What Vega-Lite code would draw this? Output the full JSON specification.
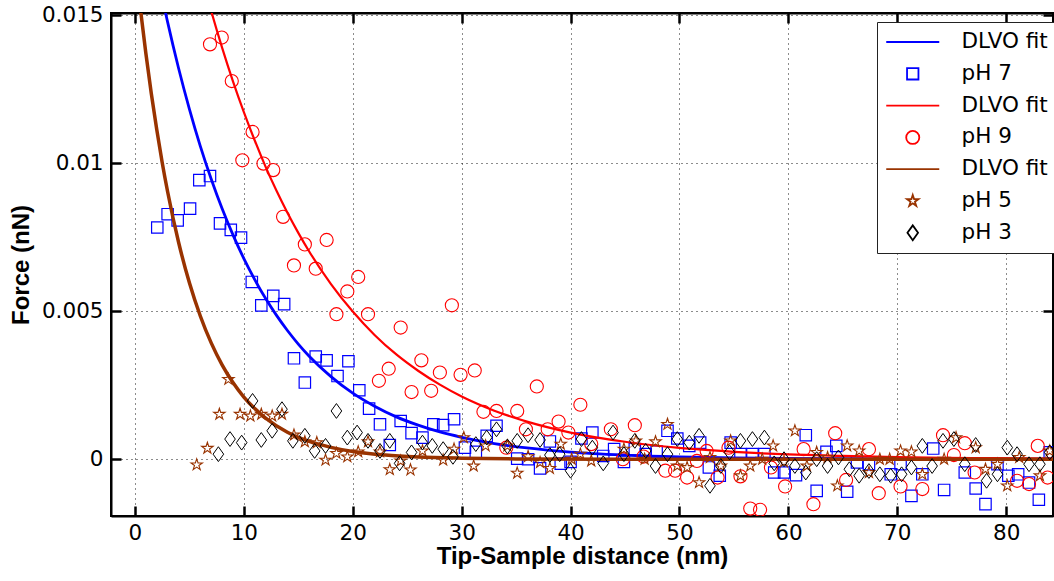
{
"$schema":"https://vega.github.io/schema/vega-lite/v6.json",
"width":942,"height":503,
"autosize":{"type":"none"},
"padding":{"left":111,"top":13,"right":1,"bottom":65},
"background":"white",
"config":{"view":{"stroke":"black","strokeWidth":2},"font":"DejaVu Sans"},
"datasets":{
"fits":[
{"s":"fit7","x":2,"y":0.0165},{"s":"fit7","x":3,"y":0.01477},{"s":"fit7","x":4,"y":0.01322},{"s":"fit7","x":5,"y":0.01183},{"s":"fit7","x":6,"y":0.01058},{"s":"fit7","x":7,"y":0.00947},{"s":"fit7","x":8,"y":0.00847},{"s":"fit7","x":9,"y":0.00758},{"s":"fit7","x":10,"y":0.00678},{"s":"fit7","x":11,"y":0.00607},{"s":"fit7","x":12,"y":0.00543},{"s":"fit7","x":13,"y":0.00486},{"s":"fit7","x":14,"y":0.00435},{"s":"fit7","x":15,"y":0.00389},{"s":"fit7","x":16,"y":0.00348},{"s":"fit7","x":18,"y":0.00279},{"s":"fit7","x":20,"y":0.00223},{"s":"fit7","x":22,"y":0.00179},{"s":"fit7","x":24,"y":0.00143},{"s":"fit7","x":26,"y":0.00115},{"s":"fit7","x":28,"y":0.00092},{"s":"fit7","x":30,"y":0.00074},{"s":"fit7","x":33,"y":0.00053},{"s":"fit7","x":36,"y":0.00038},{"s":"fit7","x":40,"y":0.00024},{"s":"fit7","x":45,"y":0.00014},{"s":"fit7","x":50,"y":0.00008},{"s":"fit7","x":55,"y":0.000046},{"s":"fit7","x":60,"y":0.000026},{"s":"fit7","x":70,"y":0.00001},{"s":"fit7","x":84.3,"y":0.000002},
{"s":"fit9","x":6,"y":0.0165},{"s":"fit9","x":7,"y":0.01515},{"s":"fit9","x":8,"y":0.01391},{"s":"fit9","x":9,"y":0.01277},{"s":"fit9","x":10,"y":0.01173},{"s":"fit9","x":11,"y":0.01077},{"s":"fit9","x":12,"y":0.00988},{"s":"fit9","x":13,"y":0.00907},{"s":"fit9","x":14,"y":0.00833},{"s":"fit9","x":15,"y":0.00765},{"s":"fit9","x":16,"y":0.00702},{"s":"fit9","x":18,"y":0.00592},{"s":"fit9","x":20,"y":0.00499},{"s":"fit9","x":22,"y":0.0042},{"s":"fit9","x":24,"y":0.00354},{"s":"fit9","x":26,"y":0.00299},{"s":"fit9","x":28,"y":0.00252},{"s":"fit9","x":30,"y":0.00212},{"s":"fit9","x":33,"y":0.00164},{"s":"fit9","x":36,"y":0.00127},{"s":"fit9","x":40,"y":0.0009},{"s":"fit9","x":45,"y":0.00059},{"s":"fit9","x":50,"y":0.00038},{"s":"fit9","x":55,"y":0.00025},{"s":"fit9","x":60,"y":0.00016},{"s":"fit9","x":65,"y":0.00011},{"s":"fit9","x":70,"y":0.00007},{"s":"fit9","x":77,"y":0.00004},{"s":"fit9","x":84.3,"y":0.00002},
{"s":"fit5","x":0,"y":0.0169},{"s":"fit5","x":0.5,"y":0.01522},{"s":"fit5","x":1,"y":0.01372},{"s":"fit5","x":1.5,"y":0.01236},{"s":"fit5","x":2,"y":0.01114},{"s":"fit5","x":2.5,"y":0.01003},{"s":"fit5","x":3,"y":0.00904},{"s":"fit5","x":4,"y":0.00734},{"s":"fit5","x":5,"y":0.00596},{"s":"fit5","x":6,"y":0.00484},{"s":"fit5","x":7,"y":0.00393},{"s":"fit5","x":8,"y":0.00319},{"s":"fit5","x":9,"y":0.00259},{"s":"fit5","x":10,"y":0.0021},{"s":"fit5","x":11,"y":0.00171},{"s":"fit5","x":12,"y":0.00139},{"s":"fit5","x":14,"y":0.00091},{"s":"fit5","x":16,"y":0.0006},{"s":"fit5","x":18,"y":0.0004},{"s":"fit5","x":20,"y":0.00026},{"s":"fit5","x":23,"y":0.00014},{"s":"fit5","x":26,"y":0.000075},{"s":"fit5","x":30,"y":0.000033},{"s":"fit5","x":35,"y":0.00001},{"s":"fit5","x":45,"y":0.000001},{"s":"fit5","x":84.3,"y":0}
],
"pts":[
{"s":"pH 7","x":2.05,"y":0.00783},{"s":"pH 7","x":3.0,"y":0.00828},{"s":"pH 7","x":3.92,"y":0.00807},{"s":"pH 7","x":5.06,"y":0.00847},{"s":"pH 7","x":5.91,"y":0.00943},{"s":"pH 7","x":6.89,"y":0.00957},{"s":"pH 7","x":7.81,"y":0.00797},{"s":"pH 7","x":8.8,"y":0.00775},{"s":"pH 7","x":9.74,"y":0.00749},{"s":"pH 7","x":10.73,"y":0.00599},{"s":"pH 7","x":11.6,"y":0.0052},{"s":"pH 7","x":12.7,"y":0.00552},{"s":"pH 7","x":13.7,"y":0.00524},{"s":"pH 7","x":14.6,"y":0.00341},{"s":"pH 7","x":15.6,"y":0.00259},{"s":"pH 7","x":16.6,"y":0.00347},{"s":"pH 7","x":17.6,"y":0.00334},{"s":"pH 7","x":18.6,"y":0.00281},{"s":"pH 7","x":19.6,"y":0.00331},{"s":"pH 7","x":20.6,"y":0.00233},{"s":"pH 7","x":21.5,"y":0.00171},{"s":"pH 7","x":22.5,"y":0.00118},{"s":"pH 7","x":23.4,"y":0.00048},{"s":"pH 7","x":24.4,"y":0.00129},{"s":"pH 7","x":25.4,"y":0.00088},{"s":"pH 7","x":26.4,"y":0.00073},{"s":"pH 7","x":27.4,"y":0.00118},{"s":"pH 7","x":28.3,"y":0.00115},{"s":"pH 7","x":29.3,"y":0.00135},{"s":"pH 7","x":30.3,"y":0.00039},{"s":"pH 7","x":31.3,"y":0.00025},{"s":"pH 7","x":32.3,"y":0.00079},{"s":"pH 7","x":33.2,"y":0.00113},{"s":"pH 7","x":35.1,"y":0.00002},{"s":"pH 7","x":36.1,"y":0.0},{"s":"pH 7","x":37.2,"y":-0.00031},{"s":"pH 7","x":38.1,"y":0.0006},{"s":"pH 7","x":39.1,"y":-0.00015},{"s":"pH 7","x":40.0,"y":-0.00009},{"s":"pH 7","x":41.0,"y":0.0007},{"s":"pH 7","x":42.0,"y":0.0009},{"s":"pH 7","x":43.0,"y":0.00011},{"s":"pH 7","x":44.0,"y":0.00034},{"s":"pH 7","x":44.9,"y":-0.00009},{"s":"pH 7","x":45.9,"y":0.00034},{"s":"pH 7","x":46.9,"y":0.00017},{"s":"pH 7","x":47.9,"y":0.00026},{"s":"pH 7","x":48.9,"y":0.00096},{"s":"pH 7","x":49.8,"y":0.0007},{"s":"pH 7","x":50.9,"y":0.00045},{"s":"pH 7","x":51.9,"y":0.00056},{"s":"pH 7","x":52.7,"y":-0.00028},{"s":"pH 7","x":53.7,"y":-0.00056},{"s":"pH 7","x":54.7,"y":0.00056},{"s":"pH 7","x":55.6,"y":0.00017},{"s":"pH 7","x":56.7,"y":0.00017},{"s":"pH 7","x":57.8,"y":0.00017},{"s":"pH 7","x":58.7,"y":-0.00045},{"s":"pH 7","x":59.6,"y":-0.00045},{"s":"pH 7","x":60.7,"y":-0.00054},{"s":"pH 7","x":61.6,"y":0.00081},{"s":"pH 7","x":62.6,"y":-0.00107},{"s":"pH 7","x":63.5,"y":0.00025},{"s":"pH 7","x":64.4,"y":0.00045},{"s":"pH 7","x":65.4,"y":-0.0011},{"s":"pH 7","x":66.3,"y":-0.00011},{"s":"pH 7","x":67.4,"y":-0.00017},{"s":"pH 7","x":69.4,"y":-0.00051},{"s":"pH 7","x":70.3,"y":-0.00017},{"s":"pH 7","x":71.3,"y":-0.00124},{"s":"pH 7","x":72.3,"y":-0.00051},{"s":"pH 7","x":73.3,"y":0.00036},{"s":"pH 7","x":74.3,"y":-0.00104},{"s":"pH 7","x":76.2,"y":-0.00045},{"s":"pH 7","x":77.2,"y":-0.00099},{"s":"pH 7","x":78.1,"y":-0.00152},{"s":"pH 7","x":79.2,"y":-0.00017},{"s":"pH 7","x":80.2,"y":-0.00056},{"s":"pH 7","x":81.1,"y":-0.00051},{"s":"pH 7","x":82.1,"y":-0.00079},{"s":"pH 7","x":83.0,"y":-0.00137},{"s":"pH 7","x":84.0,"y":0.00023},
{"s":"pH 9","x":6.89,"y":0.01402},{"s":"pH 9","x":7.97,"y":0.01425},{"s":"pH 9","x":8.89,"y":0.01278},{"s":"pH 9","x":9.86,"y":0.0101},{"s":"pH 9","x":10.8,"y":0.01106},{"s":"pH 9","x":11.8,"y":0.00999},{"s":"pH 9","x":12.7,"y":0.00977},{"s":"pH 9","x":13.6,"y":0.00819},{"s":"pH 9","x":14.6,"y":0.00655},{"s":"pH 9","x":15.6,"y":0.00726},{"s":"pH 9","x":16.6,"y":0.00644},{"s":"pH 9","x":17.6,"y":0.00741},{"s":"pH 9","x":18.5,"y":0.0049},{"s":"pH 9","x":19.5,"y":0.00567},{"s":"pH 9","x":20.5,"y":0.00616},{"s":"pH 9","x":21.4,"y":0.0049},{"s":"pH 9","x":22.4,"y":0.00265},{"s":"pH 9","x":23.3,"y":0.00306},{"s":"pH 9","x":24.4,"y":0.00445},{"s":"pH 9","x":25.4,"y":0.00227},{"s":"pH 9","x":26.3,"y":0.00334},{"s":"pH 9","x":27.2,"y":0.00231},{"s":"pH 9","x":28.0,"y":0.00293},{"s":"pH 9","x":29.1,"y":0.0052},{"s":"pH 9","x":29.9,"y":0.00285},{"s":"pH 9","x":31.2,"y":0.003},{"s":"pH 9","x":32.0,"y":0.0016},{"s":"pH 9","x":33.2,"y":0.00163},{"s":"pH 9","x":34.1,"y":0.00039},{"s":"pH 9","x":35.1,"y":0.00163},{"s":"pH 9","x":35.9,"y":0.00101},{"s":"pH 9","x":36.9,"y":0.00246},{"s":"pH 9","x":37.9,"y":0.00101},{"s":"pH 9","x":38.9,"y":0.00127},{"s":"pH 9","x":39.8,"y":0.0009},{"s":"pH 9","x":40.9,"y":0.00184},{"s":"pH 9","x":41.9,"y":0.00051},{"s":"pH 9","x":43.7,"y":0.00101},{"s":"pH 9","x":44.8,"y":0.0},{"s":"pH 9","x":45.9,"y":0.00115},{"s":"pH 9","x":46.7,"y":0.00009},{"s":"pH 9","x":48.7,"y":-0.00039},{"s":"pH 9","x":49.6,"y":-0.00039},{"s":"pH 9","x":50.7,"y":-0.00062},{"s":"pH 9","x":51.6,"y":-0.00006},{"s":"pH 9","x":52.5,"y":0.00028},{"s":"pH 9","x":53.5,"y":-0.00062},{"s":"pH 9","x":54.5,"y":0.00039},{"s":"pH 9","x":55.6,"y":-0.00058},{"s":"pH 9","x":56.5,"y":-0.00167},{"s":"pH 9","x":57.4,"y":-0.00171},{"s":"pH 9","x":58.4,"y":-0.00028},{"s":"pH 9","x":59.7,"y":-0.00092},{"s":"pH 9","x":61.4,"y":0.00034},{"s":"pH 9","x":62.3,"y":-0.00152},{"s":"pH 9","x":64.3,"y":0.00088},{"s":"pH 9","x":65.3,"y":-0.0007},{"s":"pH 9","x":67.4,"y":0.00034},{"s":"pH 9","x":68.3,"y":-0.00115},{"s":"pH 9","x":70.3,"y":-0.00092},{"s":"pH 9","x":72.3,"y":-0.00101},{"s":"pH 9","x":74.2,"y":0.00081},{"s":"pH 9","x":75.2,"y":0.00014},{"s":"pH 9","x":76.2,"y":0.00054},{"s":"pH 9","x":77.1,"y":-0.00045},{"s":"pH 9","x":81.0,"y":-0.00073},{"s":"pH 9","x":82.1,"y":-0.00084},{"s":"pH 9","x":82.9,"y":0.00045},{"s":"pH 9","x":83.8,"y":-0.00062},
{"s":"pH 5","x":5.67,"y":-0.00019},{"s":"pH 5","x":6.65,"y":0.00037},{"s":"pH 5","x":7.75,"y":0.00152},{"s":"pH 5","x":8.58,"y":0.0027},{"s":"pH 5","x":9.65,"y":0.00152},{"s":"pH 5","x":10.6,"y":0.00146},{"s":"pH 5","x":11.6,"y":0.00152},{"s":"pH 5","x":12.6,"y":0.00146},{"s":"pH 5","x":13.5,"y":0.00152},{"s":"pH 5","x":14.6,"y":0.00082},{"s":"pH 5","x":15.6,"y":0.00059},{"s":"pH 5","x":16.7,"y":0.00056},{"s":"pH 5","x":17.5,"y":-0.00003},{"s":"pH 5","x":18.5,"y":0.0002},{"s":"pH 5","x":19.5,"y":0.00008},{"s":"pH 5","x":20.5,"y":0.00025},{"s":"pH 5","x":21.4,"y":0.00059},{"s":"pH 5","x":22.5,"y":0.00025},{"s":"pH 5","x":23.4,"y":-0.00035},{"s":"pH 5","x":24.4,"y":-0.00006},{"s":"pH 5","x":25.3,"y":-0.00036},{"s":"pH 5","x":26.4,"y":0.00028},{"s":"pH 5","x":28.3,"y":-0.00003},{"s":"pH 5","x":29.3,"y":0.00034},{"s":"pH 5","x":30.2,"y":0.00073},{"s":"pH 5","x":31.1,"y":-0.00023},{"s":"pH 5","x":32.2,"y":0.00045},{"s":"pH 5","x":34.2,"y":0.00045},{"s":"pH 5","x":35.1,"y":-0.00047},{"s":"pH 5","x":36.1,"y":0.00009},{"s":"pH 5","x":37.2,"y":-0.00011},{"s":"pH 5","x":38.1,"y":-0.00031},{"s":"pH 5","x":39.1,"y":0.00051},{"s":"pH 5","x":40.1,"y":0.0},{"s":"pH 5","x":40.9,"y":0.00017},{"s":"pH 5","x":41.9,"y":-0.00006},{"s":"pH 5","x":44.9,"y":0.00034},{"s":"pH 5","x":46.0,"y":0.00062},{"s":"pH 5","x":46.8,"y":0.0},{"s":"pH 5","x":47.8,"y":0.00059},{"s":"pH 5","x":48.9,"y":0.00118},{"s":"pH 5","x":49.8,"y":-0.00023},{"s":"pH 5","x":50.7,"y":-0.00028},{"s":"pH 5","x":51.8,"y":-0.00079},{"s":"pH 5","x":52.8,"y":0.00006},{"s":"pH 5","x":53.8,"y":-0.00023},{"s":"pH 5","x":54.7,"y":0.00062},{"s":"pH 5","x":55.6,"y":-0.00056},{"s":"pH 5","x":56.5,"y":-0.00023},{"s":"pH 5","x":57.6,"y":0.0},{"s":"pH 5","x":58.6,"y":0.00045},{"s":"pH 5","x":59.6,"y":-0.00009},{"s":"pH 5","x":60.6,"y":0.00096},{"s":"pH 5","x":61.7,"y":-0.00023},{"s":"pH 5","x":62.6,"y":0.00023},{"s":"pH 5","x":63.6,"y":0.00006},{"s":"pH 5","x":64.5,"y":-0.0009},{"s":"pH 5","x":65.4,"y":0.00045},{"s":"pH 5","x":66.5,"y":0.00028},{"s":"pH 5","x":67.4,"y":-0.00045},{"s":"pH 5","x":68.4,"y":0.0},{"s":"pH 5","x":69.3,"y":0.0},{"s":"pH 5","x":70.3,"y":0.00028},{"s":"pH 5","x":71.3,"y":0.00025},{"s":"pH 5","x":72.3,"y":-0.00051},{"s":"pH 5","x":74.3,"y":0.0},{"s":"pH 5","x":75.4,"y":0.00073},{"s":"pH 5","x":77.2,"y":0.00039},{"s":"pH 5","x":78.1,"y":-0.00034},{"s":"pH 5","x":79.2,"y":-0.00017},{"s":"pH 5","x":80.1,"y":-0.0009},{"s":"pH 5","x":81.2,"y":0.00006},{"s":"pH 5","x":83.1,"y":-0.00056},{"s":"pH 5","x":84.0,"y":0.00028},
{"s":"pH 3","x":7.66,"y":0.00017},{"s":"pH 3","x":8.73,"y":0.00068},{"s":"pH 3","x":9.8,"y":0.00056},{"s":"pH 3","x":10.8,"y":0.00197},{"s":"pH 3","x":11.6,"y":0.00065},{"s":"pH 3","x":12.6,"y":0.00096},{"s":"pH 3","x":13.5,"y":0.00169},{"s":"pH 3","x":14.5,"y":0.00062},{"s":"pH 3","x":15.6,"y":0.00079},{"s":"pH 3","x":16.5,"y":0.00028},{"s":"pH 3","x":17.5,"y":0.00045},{"s":"pH 3","x":18.5,"y":0.00163},{"s":"pH 3","x":19.5,"y":0.00073},{"s":"pH 3","x":20.4,"y":0.0009},{"s":"pH 3","x":21.4,"y":0.00062},{"s":"pH 3","x":22.5,"y":0.00028},{"s":"pH 3","x":23.4,"y":0.00062},{"s":"pH 3","x":24.3,"y":-0.00014},{"s":"pH 3","x":25.4,"y":0.00023},{"s":"pH 3","x":26.4,"y":0.00056},{"s":"pH 3","x":27.3,"y":0.00045},{"s":"pH 3","x":28.3,"y":0.00034},{"s":"pH 3","x":29.2,"y":0.00008},{"s":"pH 3","x":31.3,"y":0.00051},{"s":"pH 3","x":32.3,"y":0.00073},{"s":"pH 3","x":33.2,"y":0.00101},{"s":"pH 3","x":34.2,"y":0.00043},{"s":"pH 3","x":35.1,"y":0.00062},{"s":"pH 3","x":36.1,"y":0.00081},{"s":"pH 3","x":37.2,"y":0.00065},{"s":"pH 3","x":38.1,"y":0.00014},{"s":"pH 3","x":39.0,"y":0.00017},{"s":"pH 3","x":40.0,"y":-0.00039},{"s":"pH 3","x":41.0,"y":0.00068},{"s":"pH 3","x":42.0,"y":0.00039},{"s":"pH 3","x":43.0,"y":-0.00014},{"s":"pH 3","x":43.9,"y":0.0009},{"s":"pH 3","x":44.9,"y":0.00017},{"s":"pH 3","x":45.9,"y":0.00062},{"s":"pH 3","x":46.9,"y":0.00028},{"s":"pH 3","x":47.8,"y":-0.00023},{"s":"pH 3","x":48.9,"y":0.00017},{"s":"pH 3","x":49.8,"y":0.00068},{"s":"pH 3","x":50.9,"y":0.00056},{"s":"pH 3","x":51.8,"y":0.00079},{"s":"pH 3","x":52.8,"y":-0.0009},{"s":"pH 3","x":53.8,"y":-0.00023},{"s":"pH 3","x":54.6,"y":0.00023},{"s":"pH 3","x":55.6,"y":0.00062},{"s":"pH 3","x":56.7,"y":0.00068},{"s":"pH 3","x":57.8,"y":0.00073},{"s":"pH 3","x":58.7,"y":-0.00014},{"s":"pH 3","x":59.6,"y":0.0},{"s":"pH 3","x":60.6,"y":-0.00023},{"s":"pH 3","x":61.6,"y":-0.00045},{"s":"pH 3","x":62.6,"y":0.0},{"s":"pH 3","x":63.6,"y":-0.00023},{"s":"pH 3","x":64.6,"y":0.00006},{"s":"pH 3","x":65.6,"y":-0.00034},{"s":"pH 3","x":66.5,"y":-0.00056},{"s":"pH 3","x":67.4,"y":-0.0004},{"s":"pH 3","x":68.4,"y":-0.00051},{"s":"pH 3","x":69.4,"y":-0.00056},{"s":"pH 3","x":70.4,"y":-0.00051},{"s":"pH 3","x":71.3,"y":-0.00028},{"s":"pH 3","x":72.3,"y":0.00045},{"s":"pH 3","x":73.2,"y":-0.00023},{"s":"pH 3","x":74.2,"y":0.00062},{"s":"pH 3","x":75.2,"y":0.00068},{"s":"pH 3","x":76.2,"y":-0.00017},{"s":"pH 3","x":77.2,"y":0.00048},{"s":"pH 3","x":78.2,"y":-0.00073},{"s":"pH 3","x":79.2,"y":-0.00051},{"s":"pH 3","x":80.1,"y":0.00039},{"s":"pH 3","x":81.0,"y":0.00017},{"s":"pH 3","x":82.1,"y":-0.00017},{"s":"pH 3","x":83.1,"y":-0.00017},{"s":"pH 3","x":84.0,"y":0.00023}
]
},
"layer":[
{"data":{"name":"fits"},"transform":[{"filter":"datum.s === 'fit7'"}],
 "mark":{"type":"line","clip":true,"strokeWidth":2.8,"interpolate":"monotone"},
 "encoding":{
  "x":{"field":"x","type":"quantitative","scale":{"domain":[-2.2,84.3],"nice":false,"zero":false},
   "axis":{"orient":"bottom","values":[0,10,20,30,40,50,60,70,80],"title":"Tip-Sample distance (nm)","grid":true,"gridColor":"black","gridDash":[1,4],"gridWidth":1,"gridOpacity":0.9,"domainColor":"black","domainWidth":2,"tickColor":"black","tickWidth":2.5,"tickSize":-10,"labelPadding":16,"labelFont":"DejaVu Sans","labelFontSize":21.5,"labelColor":"black","labelFlush":false,"labelOverlap":false,"titleFont":"Liberation Sans","titleFontSize":24,"titleFontWeight":"bold","titleColor":"black","titlePadding":1}},
  "y":{"field":"y","type":"quantitative","scale":{"domain":[-0.00192,0.01508],"nice":false,"zero":false},
   "axis":{"orient":"left","values":[0,0.005,0.01,0.015],"format":"~g","title":"Force (nN)","grid":true,"gridColor":"black","gridDash":[1,4],"gridWidth":1,"gridOpacity":0.9,"domainColor":"black","domainWidth":2,"tickColor":"black","tickWidth":2.5,"tickSize":-10,"labelPadding":18,"labelFont":"DejaVu Sans","labelFontSize":21.5,"labelColor":"black","labelFlush":false,"labelOverlap":false,"titleFont":"Liberation Sans","titleFontSize":24,"titleFontWeight":"bold","titleColor":"black","titlePadding":8}},
  "color":{"field":"s","type":"nominal","scale":{"domain":["fit7","pH 7","fit9","pH 9","fit5","pH 5","pH 3"],"range":["#0000FF","#0000FF","#FF0000","#FF0000","#993300","#993300","#000000"]},
   "legend":{"title":null,"orient":"none","legendX":766,"legendY":9,"direction":"vertical","padding":9,"fillColor":"white","strokeColor":"#222222","labelFont":"DejaVu Sans","labelFontSize":21.5,"labelColor":"black","labelExpr":"indexof(datum.label,'fit')==0 ? 'DLVO fit' : datum.label","symbolSize":130,"symbolStrokeWidth":1.8,"symbolOffset":16,"labelOffset":38,"clipHeight":22,"rowPadding":9.8}}
 }},
{"data":{"name":"pts"},"transform":[{"filter":"datum.s === 'pH 7'"}],
 "mark":{"type":"point","clip":true,"filled":false,"size":130,"strokeWidth":1.2,"opacity":1},
 "encoding":{
  "x":{"field":"x","type":"quantitative","axis":{"orient":"top","labels":false,"grid":false,"title":null,"values":[0,10,20,30,40,50,60,70,80],"domainColor":"black","domainWidth":2,"tickColor":"black","tickWidth":2.5,"tickSize":-10}},
  "y":{"field":"y","type":"quantitative","axis":{"orient":"right","labels":false,"grid":false,"title":null,"values":[0,0.005,0.01,0.015],"domainColor":"black","domainWidth":2,"tickColor":"black","tickWidth":2.5,"tickSize":-10}},
  "color":{"field":"s","type":"nominal","legend":{"title":null,"orient":"none","legendX":766,"legendY":9,"direction":"vertical","padding":9,"fillColor":"white","strokeColor":"#222222","labelFont":"DejaVu Sans","labelFontSize":21.5,"labelColor":"black","labelExpr":"indexof(datum.label,'fit')==0 ? 'DLVO fit' : datum.label","symbolSize":130,"symbolStrokeWidth":1.8,"symbolOffset":16,"labelOffset":38,"clipHeight":22,"rowPadding":9.8}},
  "shape":{"field":"s","type":"nominal","scale":{"domain":["fit7","pH 7","fit9","pH 9","fit5","pH 5","pH 3"],"range":["M-4.65,0H4.65","square","M-4.65,0H4.65","M1.15,0A1.15,1.15,0,1,1,-1.15,0A1.15,1.15,0,1,1,1.15,0Z","M-4.65,0H4.65","M0,-1.05L0.236,-0.324L1.0,-0.324L0.381,0.124L0.617,0.85L0,0.401L-0.617,0.85L-0.381,0.124L-1.0,-0.324L-0.236,-0.324Z","M-0.93,0L0,-1.3L0.93,0L0,1.3Z"]},"legend":{"title":null,"orient":"none","legendX":766,"legendY":9,"direction":"vertical","padding":9,"fillColor":"white","strokeColor":"#222222","labelFont":"DejaVu Sans","labelFontSize":21.5,"labelColor":"black","labelExpr":"indexof(datum.label,'fit')==0 ? 'DLVO fit' : datum.label","symbolSize":130,"symbolStrokeWidth":1.8,"symbolOffset":16,"labelOffset":38,"clipHeight":22,"rowPadding":9.8}}
 }},
{"data":{"name":"fits"},"transform":[{"filter":"datum.s === 'fit9'"}],
 "mark":{"type":"line","clip":true,"strokeWidth":2.2,"interpolate":"monotone"},
 "encoding":{"x":{"field":"x","type":"quantitative","axis":null},"y":{"field":"y","type":"quantitative","axis":null},"color":{"field":"s","type":"nominal"}}},
{"data":{"name":"pts"},"transform":[{"filter":"datum.s === 'pH 9'"}],
 "mark":{"type":"point","clip":true,"filled":false,"size":130,"strokeWidth":1.1,"opacity":1},
 "encoding":{"x":{"field":"x","type":"quantitative","axis":null},"y":{"field":"y","type":"quantitative","axis":null},"color":{"field":"s","type":"nominal"},"shape":{"field":"s","type":"nominal"}}},
{"data":{"name":"fits"},"transform":[{"filter":"datum.s === 'fit5'"}],
 "mark":{"type":"line","clip":true,"strokeWidth":3.5,"interpolate":"monotone"},
 "encoding":{"x":{"field":"x","type":"quantitative","axis":null},"y":{"field":"y","type":"quantitative","axis":null},"color":{"field":"s","type":"nominal"}}},
{"data":{"name":"pts"},"transform":[{"filter":"datum.s === 'pH 5'"}],
 "mark":{"type":"point","clip":true,"filled":false,"size":130,"strokeWidth":1.1,"opacity":1},
 "encoding":{"x":{"field":"x","type":"quantitative","axis":null},"y":{"field":"y","type":"quantitative","axis":null},"color":{"field":"s","type":"nominal"},"shape":{"field":"s","type":"nominal"}}},
{"data":{"name":"pts"},"transform":[{"filter":"datum.s === 'pH 3'"}],
 "mark":{"type":"point","clip":true,"filled":false,"size":130,"strokeWidth":1,"opacity":1},
 "encoding":{"x":{"field":"x","type":"quantitative","axis":null},"y":{"field":"y","type":"quantitative","axis":null},"color":{"field":"s","type":"nominal"},"shape":{"field":"s","type":"nominal"}}}
],
"resolve":{"axis":{"x":"independent","y":"independent"}}
}
